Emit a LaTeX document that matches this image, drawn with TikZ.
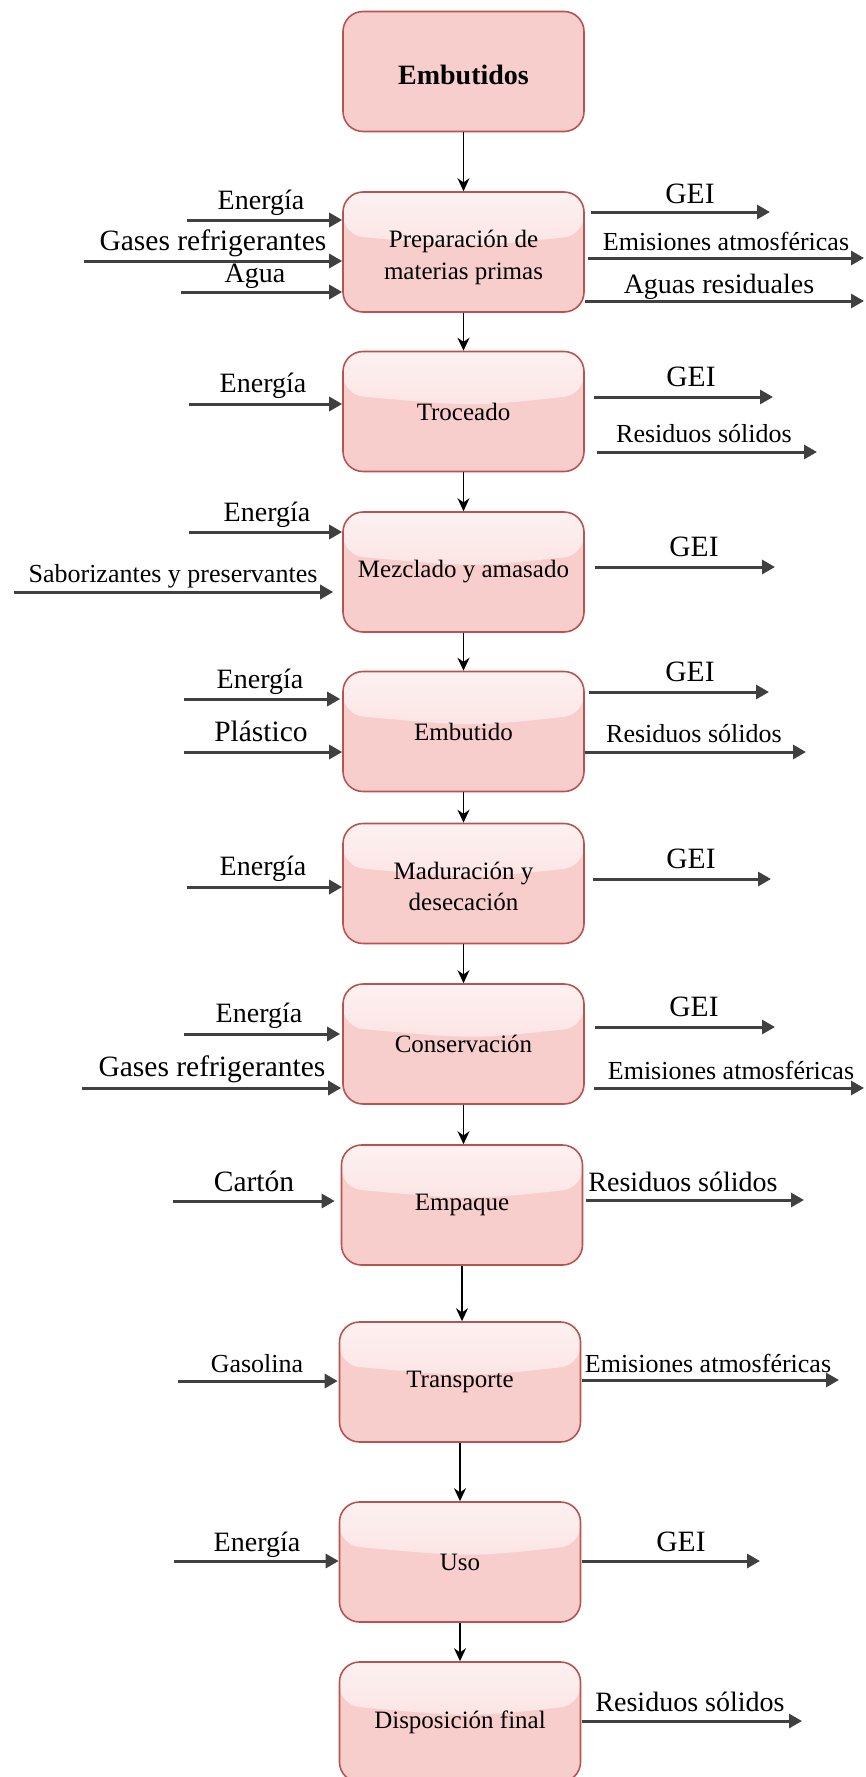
\documentclass[tikz,border=0pt]{standalone}
\usepackage{fontspec}
\setmainfont{Liberation Serif}
\usetikzlibrary{arrows.meta,calc}

\definecolor{boxfill}{HTML}{F8CECC}
\definecolor{boxline}{HTML}{B85450}
\definecolor{boxglass}{HTML}{FDF1F1}
\definecolor{boxglassend}{HTML}{F9D6D4}

% text lowered inside a box while keeping its nominal size
\newcommand{\lowered}[2]{\raisebox{-#1}[\height][\depth]{#2}}
\newcommand{\twolines}[2]{\lowered{5pt}{\begin{tabular}{@{}c@{}}#1\\#2\end{tabular}}}

\tikzset{
  stagebase/.style={rounded corners=20pt, draw=boxline, line width=1.6pt, fill=boxfill,
    minimum width=241pt, minimum height=120pt, align=center, inner sep=2pt},
  stage/.style={stagebase, font=\fontsize{25}{31.5}\selectfont,
    path picture={
      \shade[top color=boxglass, bottom color=boxglassend]
        (path picture bounding box.north west) -- (path picture bounding box.north east)
        -- ($(path picture bounding box.north east)!0.36!(path picture bounding box.south east)$)
        .. controls ($(path picture bounding box.north east)!0.46!(path picture bounding box.south west)$)
        .. ($(path picture bounding box.north west)!0.36!(path picture bounding box.south west)$)
        -- cycle;
    }},
  title/.style={stagebase, font=\bfseries\fontsize{28}{32}\selectfont},
  flow/.style={-{Stealth[length=13pt,width=12pt]}, line width=1.6pt, draw=black},
  io/.style={-{Triangle[length=13pt,width=14pt]}, line width=3pt, draw=black!75},
  lblbase/.style={inner sep=2pt, text height=0.7em, text depth=0.22em, yshift=-7pt},
  lbl/.style={lblbase, font=\fontsize{28}{32}\selectfont},
  lblb/.style={lblbase, font=\fontsize{29.5}{33}\selectfont},
  lbls/.style={lblbase, font=\fontsize{26}{30}\selectfont},
}

\begin{document}
\begin{tikzpicture}[x=1pt,y=-1pt]
\useasboundingbox (0,0) rectangle (865,1777);

% process stages
\node[title] (b1) at (463.5,71.5) {\lowered{3pt}{Embutidos}};
\node[stage] (b2) at (463.5,252) {\twolines{Preparación de}{materias primas}};
\node[stage] (b3) at (463.5,411.5) {Troceado};
\node[stage] (b4) at (463.5,572) {Mezclado y amasado};
\node[stage] (b5) at (463.5,731.5) {Embutido};
\node[stage] (b6) at (463.5,883.5) {\twolines{Maduración y}{desecación}};
\node[stage] (b7) at (463.5,1044) {Conservación};
\node[stage] (b8) at (462,1205) {Empaque};
\node[stage] (b9) at (460,1382) {Transporte};
\node[stage] (b10) at (460,1562) {Uso};
\node[stage] (b11) at (460,1722) {Disposición final};

% main sequence
\foreach \a/\b in {b1/b2,b2/b3,b3/b4,b4/b5,b5/b6,b6/b7,b7/b8,b8/b9,b9/b10,b10/b11}
  \draw[flow] (\a.south) -- (\a.south |- \b.north);

% --- Preparación de materias primas
\coordinate (i2a) at (187,220);
\coordinate (i2b) at (84,261);
\coordinate (i2c) at (181,292);
\draw[io] (i2a) -- (i2a -| b2.west);
\draw[io] (i2b) -- (i2b -| b2.west);
\draw[io] (i2c) -- (i2c -| b2.west);
\node[lbl] (l2a) at (261,200) {Energía};
\node[lblb] (l2b) at (213,241) {Gases refrigerantes};
\node[lbl, fill=white, inner sep=4pt] (l2c) at (255,273) {Agua};
\coordinate (o2a) at (770,212);
\coordinate (o2b) at (864,258);
\coordinate (o2c) at (864,301);
\draw[io, shorten <=6pt] (b2.east |- o2a) -- (o2a);
\draw[io, shorten <=3pt] (b2.east |- o2b) -- (o2b);
\draw[io] (b2.east |- o2c) -- (o2c);
\node[lblb] (r2a) at (690,194) {GEI};
\node[lbls] (r2b) at (726,241) {Emisiones atmosféricas};
\node[lbl] (r2c) at (719,284) {Aguas residuales};

% --- Troceado
\coordinate (i3a) at (189,404);
\draw[io] (i3a) -- (i3a -| b3.west);
\node[lbl] (l3a) at (263,383) {Energía};
\coordinate (o3a) at (773,397);
\coordinate (o3b) at (817,452);
\draw[io, shorten <=9pt] (b3.east |- o3a) -- (o3a);
\draw[io, shorten <=12pt] (b3.east |- o3b) -- (o3b);
\node[lblb] (r3a) at (691,377) {GEI};
\node[lbls] (r3b) at (704,433) {Residuos sólidos};

% --- Mezclado y amasado
\coordinate (i4a) at (189,532);
\coordinate (i4b) at (14,592);
\draw[io] (i4a) -- (i4a -| b4.west);
\draw[io, shorten >=9pt] (i4b) -- (i4b -| b4.west);
\node[lbl] (l4a) at (267,512) {Energía};
\node[lbls] (l4b) at (173,573) {Saborizantes y preservantes};
\coordinate (o4a) at (775,567);
\draw[io, shorten <=10pt] (b4.east |- o4a) -- (o4a);
\node[lblb] (r4a) at (694,547) {GEI};

% --- Embutido
\coordinate (i5a) at (184,699);
\coordinate (i5b) at (184,752);
\draw[io, shorten >=2pt] (i5a) -- (i5a -| b5.west);
\draw[io] (i5b) -- (i5b -| b5.west);
\node[lbl] (l5a) at (260,679) {Energía};
\node[lblb] (l5b) at (261,732) {Plástico};
\coordinate (o5a) at (769,692);
\coordinate (o5b) at (806,752);
\draw[io, shorten <=4pt] (b5.east |- o5a) -- (o5a);
\draw[io] (b5.east |- o5b) -- (o5b);
\node[lblb] (r5a) at (690,672) {GEI};
\node[lbls] (r5b) at (694,733) {Residuos sólidos};

% --- Maduración y desecación
\coordinate (i6a) at (187,887);
\draw[io] (i6a) -- (i6a -| b6.west);
\node[lbl] (l6a) at (263,866) {Energía};
\coordinate (o6a) at (771,879);
\draw[io, shorten <=8pt] (b6.east |- o6a) -- (o6a);
\node[lblb] (r6a) at (691,859) {GEI};

% --- Conservación
\coordinate (i7a) at (184,1034);
\coordinate (i7b) at (82,1088);
\draw[io, shorten >=2pt] (i7a) -- (i7a -| b7.west);
\draw[io, shorten >=1pt] (i7b) -- (i7b -| b7.west);
\node[lbl] (l7a) at (259,1013) {Energía};
\node[lblb] (l7b) at (212,1067) {Gases refrigerantes};
\coordinate (o7a) at (775,1027);
\coordinate (o7b) at (864,1088);
\draw[io, shorten <=10pt] (b7.east |- o7a) -- (o7a);
\draw[io, shorten <=9pt] (b7.east |- o7b) -- (o7b);
\node[lblb] (r7a) at (694,1007) {GEI};
\node[lbls] (r7b) at (731,1070) {Emisiones atmosféricas};

% --- Empaque
\coordinate (i8a) at (173,1201);
\draw[io, shorten >=6pt] (i8a) -- (i8a -| b8.west);
\node[lblb] (l8a) at (254,1182) {Cartón};
\coordinate (o8a) at (804,1200);
\draw[io, shorten <=3pt] (b8.east |- o8a) -- (o8a);
\node[lbl] (r8a) at (683,1182) {Residuos sólidos};

% --- Transporte
\coordinate (i9a) at (178,1381);
\draw[io, shorten >=1pt] (i9a) -- (i9a -| b9.west);
\node[lbls] (l9a) at (257,1363) {Gasolina};
\coordinate (o9a) at (839,1380);
\draw[io, shorten <=1pt] (b9.east |- o9a) -- (o9a);
\node[lbls] (r9a) at (708,1363) {Emisiones atmosféricas};

% --- Uso
\coordinate (i10a) at (174,1561);
\draw[io] (i10a) -- (i10a -| b10.west);
\node[lbl] (l10a) at (257,1542) {Energía};
\coordinate (o10a) at (760,1561);
\draw[io, shorten <=1pt] (b10.east |- o10a) -- (o10a);
\node[lblb] (r10a) at (681,1542) {GEI};

% --- Disposición final
\coordinate (o11a) at (802,1721);
\draw[io, shorten <=1pt] (b11.east |- o11a) -- (o11a);
\node[lbl] (r11a) at (690,1702) {Residuos sólidos};
\end{tikzpicture}
\end{document}
